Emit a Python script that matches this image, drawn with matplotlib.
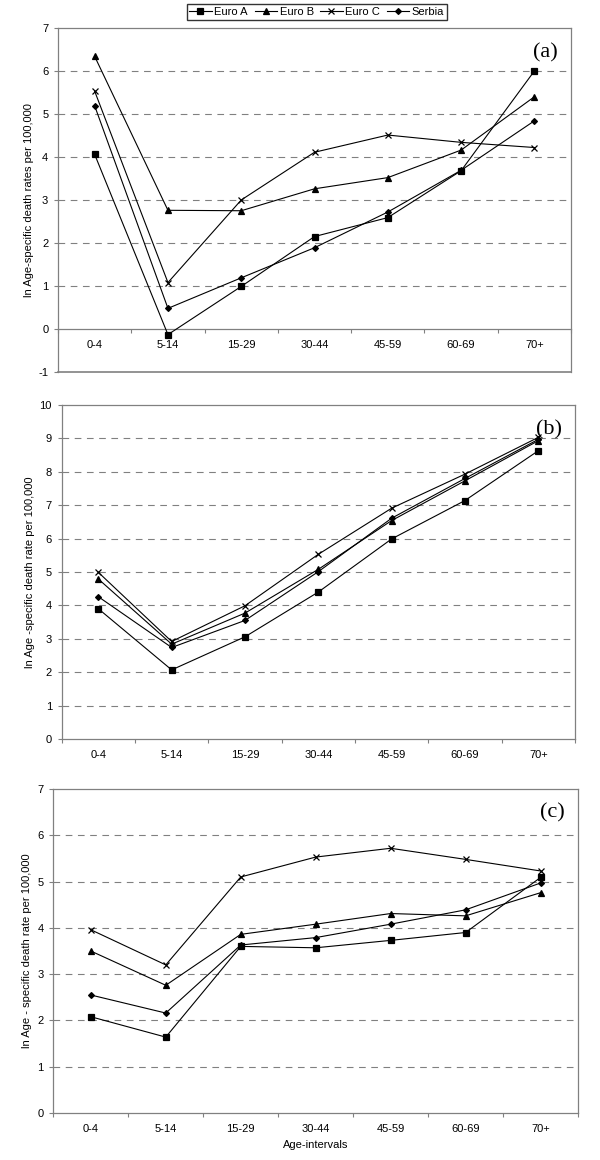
import numpy as np
import matplotlib.pyplot as plt
from matplotlib.lines import Line2D

plt.rcParams['font.family'] = ['Liberation Sans', 'DejaVu Sans']
plt.rcParams['axes.unicode_minus'] = False

# age groups on the x axis
ages = ['0-4', '5-14', '15-29', '30-44', '45-59', '60-69', '70+']
series = ['Euro A', 'Euro B', 'Euro C', 'Serbia']
markers = ['s', '^', 'x', 'D']
msizes = [4.2, 4.5, 4.5, 3.0]

# panel (a)
a_euro_a = [4.06, -0.13, 0.99, 2.15, 2.59, 3.68, 6.00]
a_euro_b = [6.34, 2.76, 2.75, 3.26, 3.52, 4.16, 5.40]
a_euro_c = [5.53, 1.08, 3.00, 4.11, 4.51, 4.34, 4.22]
a_serbia = [5.19, 0.48, 1.19, 1.89, 2.72, 3.69, 4.84]

# panel (b)
b_euro_a = [3.90, 2.07, 3.06, 4.40, 5.99, 7.14, 8.63]
b_euro_b = [4.79, 2.84, 3.77, 5.08, 6.54, 7.73, 8.93]
b_euro_c = [4.99, 2.92, 3.99, 5.53, 6.91, 7.93, 9.03]
b_serbia = [4.26, 2.74, 3.55, 5.01, 6.61, 7.80, 8.97]

# panel (c)
c_euro_a = [2.08, 1.64, 3.60, 3.57, 3.73, 3.90, 5.09]
c_euro_b = [3.50, 2.76, 3.86, 4.08, 4.31, 4.26, 4.76]
c_euro_c = [3.96, 3.20, 5.10, 5.53, 5.72, 5.48, 5.23]
c_serbia = [2.55, 2.16, 3.63, 3.79, 4.08, 4.39, 4.97]

ylabels = ['ln Age-specific death rates per 100,000',
           'ln Age -specific death rate per 100,000',
           'ln Age - specific death rate per 100,000']
panel_tags = ['(a)', '(b)', '(c)']

grey = '#808080'

fig = plt.figure(figsize=(6, 11.6), dpi=100)

# [left, bottom, width, height] in figure fractions
boxes = [[0.0967, 0.6793, 0.855, 0.2966],
         [0.1028, 0.3629, 0.8555, 0.2880],
         [0.0889, 0.0405, 0.8745, 0.2793]]
ylims = [(-1, 7), (0, 10), (0, 7)]
data = [[a_euro_a, a_euro_b, a_euro_c, a_serbia],
        [b_euro_a, b_euro_b, b_euro_c, b_serbia],
        [c_euro_a, c_euro_b, c_euro_c, c_serbia]]
label_x = [-0.047, -0.052, -0.040]

x = np.arange(len(ages))
for i, box in enumerate(boxes):
    ax = fig.add_axes(box)
    for vals, name, m, ms in zip(data[i], series, markers, msizes):
        ax.plot(x, vals, color='black', lw=0.8, marker=m, ms=ms,
                mew=0.9, label=name, zorder=3)
    lo, hi = ylims[i]
    ax.set_xlim(-0.5, len(ages) - 0.5)
    ax.set_ylim(lo, hi)
    ax.set_yticks(range(lo, hi + 1))
    for g in range(max(lo, 0) + 1, hi):
        ax.axhline(g, color=grey, lw=0.8, ls=(0, (6, 5)), zorder=1)

    ax.set_xticks(x)
    ax.set_xticklabels(ages)
    ax.set_xticks(np.arange(-0.5, len(ages)), minor=True)
    ax.tick_params(axis='x', which='major', length=0, pad=8, labelsize=8)
    ax.tick_params(axis='x', which='minor', length=3, color=grey, width=0.8)
    ax.tick_params(axis='y', length=3, color=grey, width=0.8, pad=4,
                   labelsize=8)

    for s in ['top', 'right', 'left', 'bottom']:
        ax.spines[s].set_color(grey)
        ax.spines[s].set_linewidth(0.9)
    if lo < 0:
        # category axis crosses at zero, plot area border stays at the bottom
        ax.spines['bottom'].set_position(('data', 0))
        ax.axhline(lo, color=grey, lw=1.2, clip_on=False)

    ax.set_ylabel(ylabels[i], fontsize=8)
    ax.yaxis.set_label_coords(label_x[i], 0.5)
    ax.text(0.975, 0.955, panel_tags[i], transform=ax.transAxes,
            ha='right', va='top', fontsize=16, family='Liberation Serif')
    if i == 2:
        ax.set_xlabel('Age-intervals', fontsize=8, labelpad=4)

handles = [Line2D([], [], color='black', lw=0.8, marker=m, ms=ms, mew=0.9)
           for m, ms in zip(markers, msizes)]
fig.legend(handles, series, loc='upper center', ncol=4,
           bbox_to_anchor=(0.528, 0.9965), fontsize=8, frameon=True,
           fancybox=False, edgecolor='black', borderpad=0.25,
           handlelength=2.0, handletextpad=0.25, columnspacing=0.6,
           borderaxespad=0)

fig.savefig('out.png', dpi=100)
